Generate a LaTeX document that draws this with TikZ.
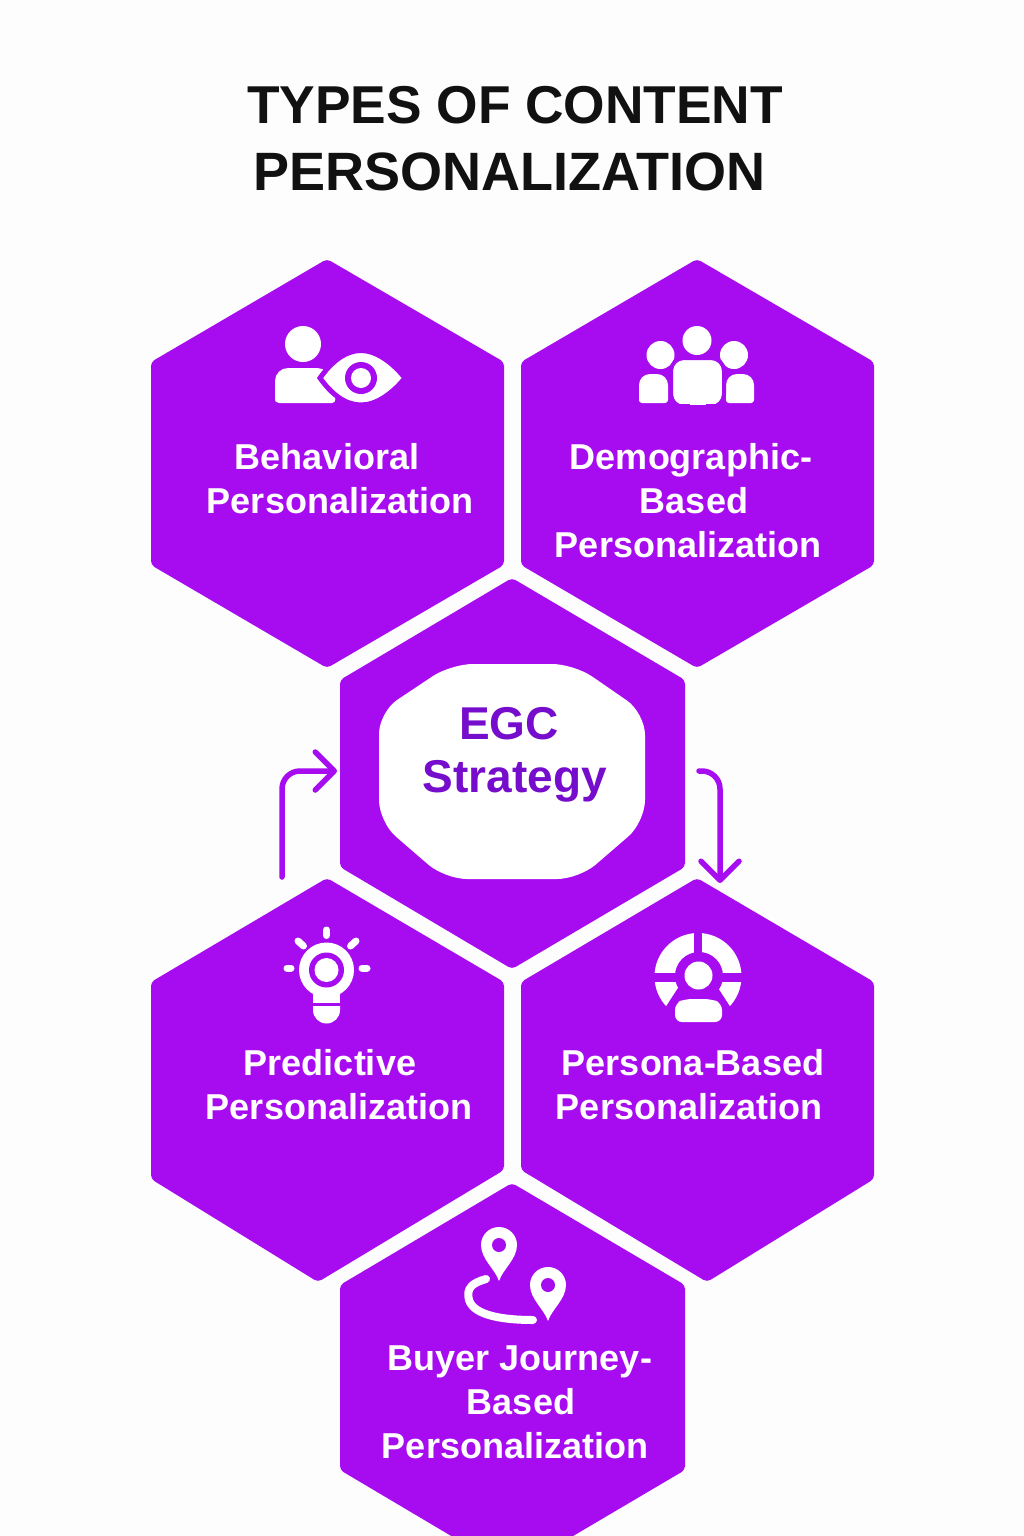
\documentclass[tikz,border=0pt]{standalone}
\usepackage{fontspec}
\setmainfont{Liberation Sans}
\usetikzlibrary{arrows.meta}
\definecolor{hexpurple}{RGB}{167,11,239}
\definecolor{deeppurple}{RGB}{118,12,204}
\definecolor{titleink}{RGB}{17,17,17}
\definecolor{paper}{RGB}{253,253,253}
\tikzset{
  hexa/.style={fill=hexpurple,rounded corners=4pt},
  label/.style={text=white,font=\fontsize{36}{36}\selectfont\bfseries,anchor=base,inner sep=0pt},
  titletext/.style={text=titleink,font=\fontsize{54}{54}\selectfont\bfseries,anchor=base,inner sep=0pt},
  centertext/.style={text=deeppurple,font=\fontsize{46}{46}\selectfont\bfseries,anchor=base,inner sep=0pt},
  flow/.style={draw=hexpurple,line width=5.500pt,line cap=round,line join=round,rounded corners=18pt,
    -{Straight Barb[round,length=19pt,width=38pt,line width=5.500pt]}},
  iconfill/.style={fill=white},
  iconcut/.style={fill=hexpurple},
  ray/.style={draw=white,line width=7pt,line cap=round}
}
\begin{document}
\begin{tikzpicture}[x=1pt,y=-1pt]
\useasboundingbox (0,0) rectangle (1024,1536);
\fill[paper] (0,0) rectangle (1024,1536);

% title
\node[titletext,font=\fontsize{53.300}{54}\selectfont\bfseries] (t1) at (515,124) {TYPES OF CONTENT};
\node[titletext] (t2) at (509,190) {PERSONALIZATION};

% hexagons
\fill[hexa] (327,259) -- (504,362) -- (504,565) -- (327,668) -- (151,565) -- (151,362) -- cycle;
\fill[hexa] (697,259) -- (874,362) -- (874,565) -- (697,668) -- (521,565) -- (521,362) -- cycle;
\fill[hexa] (512,578) -- (685,680) -- (685,867) -- (512,969) -- (340,867) -- (340,680) -- cycle;
\fill[hexa] (327,878) -- (504,982) -- (504,1170) -- (318,1282) -- (151,1179) -- (151,982) -- cycle;
\fill[hexa] (697,878) -- (874,982) -- (874,1179) -- (707,1282) -- (521,1170) -- (521,982) -- cycle;
\fill[hexa] (512,1183) -- (685,1285) -- (685,1470) -- (512,1572) -- (340,1470) -- (340,1285) -- cycle;

% centre plate
\fill[white,rounded corners=22pt] (451,664) -- (574,664) -- (645,713) -- (645,822) -- (579,879) -- (445,879) -- (379,822) -- (379,712) -- cycle;
\node[centertext] (egc) at (509,739) {EGC};
\node[centertext] (strategy) at (515,792) {Strategy};

% labels
\node[label] (b1) at (327,469) {Behavioral};
\node[label] (b2) at (340,513) {Personalization};
\node[label] (d1) at (691,469) {Demographic-};
\node[label] (d2) at (694,513) {Based};
\node[label] (d3) at (688,557) {Personalization};
\node[label] (p1) at (330,1075) {Predictive};
\node[label] (p2) at (339,1119) {Personalization};
\node[label] (r1) at (693,1075) {Persona-Based};
\node[label] (r2) at (689,1119) {Personalization};
\node[label] (j1) at (520,1370) {Buyer Journey-};
\node[label] (j2) at (521,1414) {Based};
\node[label] (j3) at (515,1458) {Personalization};

% connectors
\coordinate (la) at (282,877);
\coordinate (lb) at (337,771);
\coordinate (ra) at (699,771);
\coordinate (rb) at (720,883);
\draw[flow] (la) |- (lb);
\draw[flow] (ra) -| (rb);

% icon: person + eye
\fill[iconfill] (303,344) circle (18);
\fill[iconfill] (275,398) [rounded corners=13pt] -- (275,368) -- (330,368) [rounded corners=4pt] -- (336,403) -- (275,403) -- cycle;
\path[fill=white,draw=hexpurple,line width=5pt]
  (320,378) .. controls (332,361) and (346,350.500) .. (361,350.500) .. controls (376,350.500) and (392,362) .. (405,378)
  .. controls (392,394) and (376,405) .. (361,405) .. controls (346,405) and (332,395) .. (320,378) -- cycle;
\fill[iconcut] (361,378) circle (16);
\fill[iconfill] (361,378) circle (10);

% icon: group
\fill[iconfill] (697,340.500) circle (14.500);
\fill[iconfill] (660.500,355) circle (14);
\fill[iconfill] (734,355) circle (14);
\fill[iconfill] (639,398) [rounded corners=11pt] -- (639,374) -- (668,374) [rounded corners=3pt] -- (668,403) -- (639,403) -- cycle;
\fill[iconfill] (726,398) [rounded corners=11pt] -- (726,374) -- (754,374) [rounded corners=3pt] -- (754,403) -- (726,403) -- cycle;
\fill[iconfill,draw=hexpurple,line width=4pt,rounded corners=13pt] (671,407) -- (671,358) -- (724,358) -- (724,407) -- cycle;
\fill[hexpurple] (668,403.500) rectangle (690,408);
\fill[hexpurple] (706,403.500) rectangle (727,408);

% icon: bulb
\fill[iconfill] (326.500,970) circle (27.500);
\fill[iconfill] (313,985) rectangle (340,1003);
\fill[iconcut] (326.500,970) circle (17.500);
\fill[iconfill] (326.500,970) circle (12);
\fill[iconfill] (313,1006) -- (340,1006) -- (340,1010) arc[start angle=0,end angle=180,radius=13.500] -- cycle;
\draw[ray] (326.500,930) -- (326.500,935.500);
\draw[ray] (298,941) -- (303.500,946);
\draw[ray] (356,941) -- (350.500,946);
\draw[ray] (287,968) -- (291,968);
\draw[ray] (362,968) -- (367,968);

% icon: persona wheel
\fill[iconfill] (698,976.500) circle (43.500);
\draw[hexpurple,line width=8pt] (698,928) -- (698,965);
\draw[hexpurple,line width=9pt] (650,977.500) -- (746,977.500);
\fill[iconcut] (699,976) circle (24);
\fill[iconcut] (665,1008) -- (678,988) -- (718,988) -- (731,1008) -- (738,1030) -- (658,1030) -- cycle;
\fill[iconfill] (698.500,975.500) circle (14);
\fill[iconfill,rounded corners=7pt] (675,1022) -- (675,1003) -- (685,999) -- (711,999) -- (722,1003) -- (722,1022) -- cycle;

% icon: route pins
\draw[white,line width=8pt,line cap=round] (486,1279) .. controls (472,1283) and (466,1288) .. (469,1300) .. controls (474,1316) and (505,1320) .. (533,1320);
\fill[iconfill] (499,1281) .. controls (495,1269) and (481,1259) .. (481,1245) arc[start angle=180,end angle=360,radius=18] .. controls (517,1259) and (503,1269) .. (499,1281) -- cycle;
\fill[iconcut] (499,1245) circle (7);
\fill[iconfill] (548,1321) .. controls (544,1309) and (530,1299) .. (530,1285) arc[start angle=180,end angle=360,radius=18] .. controls (566,1299) and (552,1309) .. (548,1321) -- cycle;
\fill[iconcut] (548,1285) circle (7);
\end{tikzpicture}
\end{document}
